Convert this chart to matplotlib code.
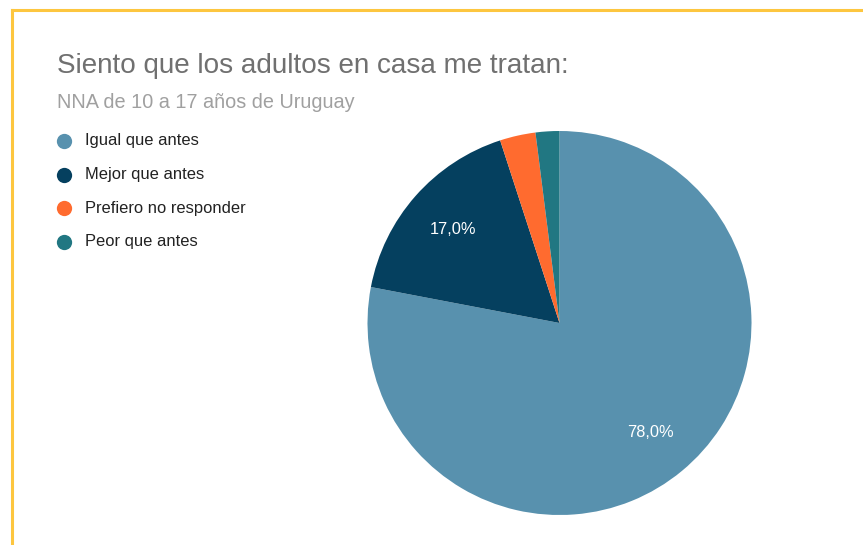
import matplotlib
matplotlib.use('Agg')
import matplotlib.pyplot as plt
from matplotlib.lines import Line2D

labels = ["Igual que antes", "Mejor que antes", "Prefiero no responder", "Peor que antes"]
values = [78.0, 17.0, 3.0, 2.0]
colors = ["#5891ae", "#05405f", "#ff6b2f", "#217782"]

W, H = 863, 545
fig = plt.figure(figsize=(W / 100, H / 100), dpi=100)
fig.patch.set_facecolor("white")

# overlay in pixel coords for texts, legend and frame
ov = fig.add_axes([0, 0, 1, 1])
ov.set_xlim(0, W)
ov.set_ylim(H, 0)
ov.axis("off")

# yellow frame (top and left)
ov.add_line(Line2D([12, W], [10, 10], color="#fdc63f", lw=2.2))
ov.add_line(Line2D([12, 12], [10, H], color="#fdc63f", lw=2.2))

font = "Liberation Sans"
ov.text(57, 66, "Siento que los adultos en casa me tratan:", fontsize=20.1,
        color="#707070", family=font, va="center", ha="left")
ov.text(57, 103, "NNA de 10 a 17 años de Uruguay", fontsize=14.3,
        color="#a0a0a0", family=font, va="center", ha="left")

# legend
for i, (lab, col) in enumerate(zip(labels, colors)):
    y = 141 + i * 33.5
    ov.plot(64, y, "o", ms=11, color=col, mec="none")
    ov.text(85, y, lab, fontsize=11.9, color="#222222", family=font,
            va="center", ha="left")

# pie
cx, cy, r = 559.5, 323, 192
ax = fig.add_axes([(cx - r) / W, (H - cy - r) / H, 2 * r / W, 2 * r / H])


def fmt(p):
    return (f"{p:.1f}%").replace(".", ",") if p > 5 else ""


wedges, texts, autotexts = ax.pie(values, colors=colors, startangle=90,
                                  counterclock=False, radius=1,
                                  autopct=fmt, pctdistance=0.74,
                                  wedgeprops=dict(linewidth=0))
for t in autotexts:
    t.set_color("white")
    t.set_fontsize(11.8)
    t.set_family(font)
ax.set_xlim(-1, 1)
ax.set_ylim(-1, 1)
ax.set_aspect("equal")
ax.axis("off")

fig.savefig("out.png", dpi=100)
